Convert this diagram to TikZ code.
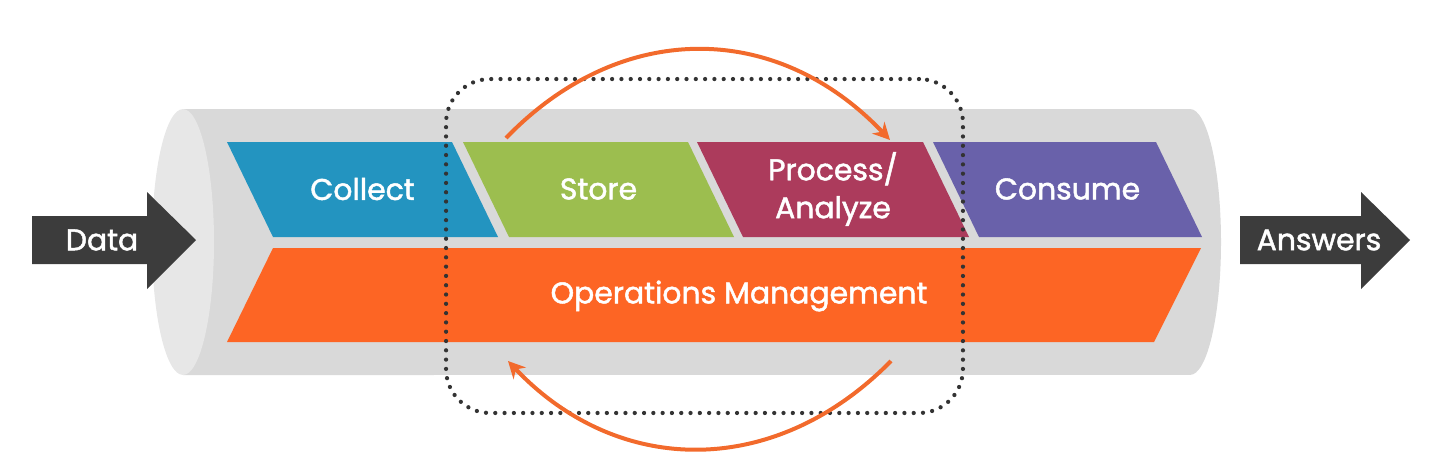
\documentclass[tikz,border=0pt]{standalone}
\usepackage{fontspec}
\setmainfont{Poppins}[FakeBold=1.6]
\usepackage{xcolor}
\usetikzlibrary{arrows.meta}
\definecolor{clpipe}{HTML}{D9D9D9}
\definecolor{clend}{HTML}{E7E7E7}
\definecolor{clcollect}{HTML}{2394C0}
\definecolor{clstore}{HTML}{9CBE4F}
\definecolor{clproc}{HTML}{AC3B5C}
\definecolor{clconsume}{HTML}{6961AA}
\definecolor{clops}{HTML}{FD6524}
\definecolor{clarrow}{HTML}{3C3C3C}
\definecolor{clarc}{HTML}{F26A2C}

\begin{document}
\begin{tikzpicture}[x=0.02cm,y=-0.02cm,inner sep=1mm]
    \tikzstyle{label}=[text=white,font=\fontsize{17}{21.6}\selectfont,align=center]
    \tikzstyle{focus}=[draw=black!80,line width=0.085cm,dash pattern=on 0pt off 0.186cm,line cap=round,rounded corners=0.88cm,minimum width=10.34cm,minimum height=6.68cm]
    \tikzstyle{turn}=[draw=clarc,line width=0.08cm,-{Stealth[length=0.34cm,width=0.34cm]}]
    \useasboundingbox (0,0) rectangle (1429,468);

    % pipe
    \fill[clpipe] (183,109) -- (1190,109) arc[start angle=90,end angle=-90,x radius=0.62cm,y radius=2.66cm] -- (183,375) -- cycle;
    \fill[clend] (183,242) ellipse[x radius=0.62cm,y radius=2.66cm];

    \foreach \xl/\xr/\col/\nm/\txt in {227/452/clcollect/collect/Collect, 463/688/clstore/store/Store, 697/923/clproc/process/{Process/\\Analyze}, 933/1156/clconsume/consume/Consume} {
        \fill[\col] (\xl,142) -- (\xr,142) -- (\xr+46,237) -- (\xl+46,237) -- cycle;
        \node[label] (\nm) at ({(\xl+\xr)/2+23},189) {\txt};
    };

    \fill[clops] (273,248) -- (1201,248) -- (1154,342) -- (227,342) -- cycle;
    \node[label] (ops) at (739,296) {Operations Management};

    % in and out
    \fill[clarrow] (32,216) -- (147,216) -- (147,192) -- (196,240) -- (147,289) -- (147,264) -- (32,264) -- cycle;
    \node[label] (data) at (102,240) {Data};
    \fill[clarrow] (1240,216) -- (1361,216) -- (1361,192) -- (1410,240) -- (1361,289) -- (1361,264) -- (1240,264) -- cycle;
    \node[label] (answers) at (1319,240) {Answers};

    \node[focus] (loop) at (704.5,246) {};

    \coordinate (ta) at (506,138);
    \coordinate (tb) at (890,140);
    \coordinate (ba) at (891,361);
    \coordinate (bb) at (508,361);
    \draw[turn] (ta) .. controls (620,20) and (776,20) .. (tb);
    \draw[turn] (ba) .. controls (776,478) and (619,478) .. (bb);
\end{tikzpicture}
\end{document}
